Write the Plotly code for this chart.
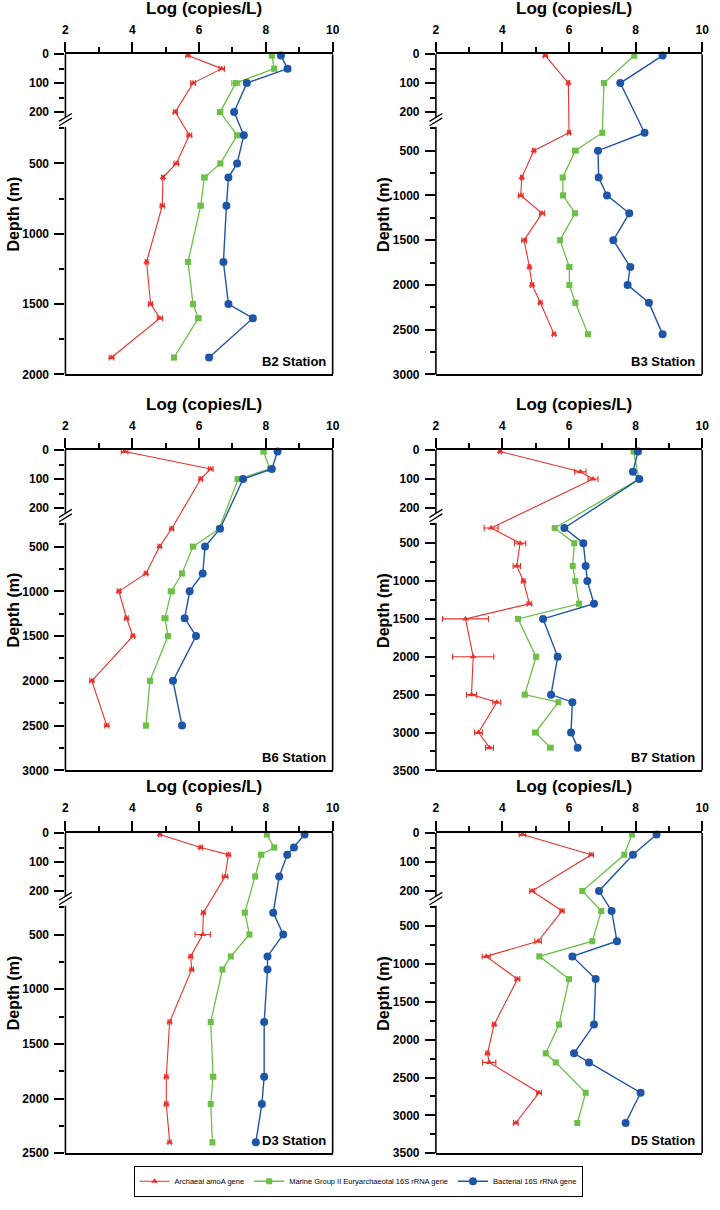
import plotly.graph_objects as go

# ---------------- data ----------------
B2_depth = [5, 50, 100, 200, 300, 500, 600, 800, 1200, 1500, 1600, 1880]
B2_amoA = [5.67, 6.68, 5.82, 5.29, 5.71, 5.32, 4.92, 4.90, 4.43, 4.55, 4.83, 3.38]
B2_mgii = [8.18, 8.25, 7.10, 6.63, 7.14, 6.64, 6.16, 6.05, 5.67, 5.82, 5.98, 5.25]
B2_bact = [8.45, 8.65, 7.43, 7.05, 7.34, 7.14, 6.88, 6.82, 6.73, 6.88, 7.61, 6.30]
B2_amoA_err = [0.06, 0.08, 0.07, 0.06, 0.07, 0.07, 0.04, 0.06, 0.04, 0.06, 0.08, 0.07]
B2_mgii_err = [0.05, 0.06, 0.12, 0.08, 0.07, 0.06, 0.08, 0.08, 0.04, 0.05, 0.08, 0.05]
B2_bact_err = [0.07, 0.08, 0.07, 0.06, 0.07, 0.06, 0.06, 0.05, 0.05, 0.06, 0.08, 0.06]

B3_depth = [5, 100, 300, 500, 800, 1000, 1200, 1500, 1800, 2000, 2200, 2550]
B3_amoA = [5.29, 5.98, 6.00, 4.94, 4.58, 4.55, 5.19, 4.65, 4.81, 4.89, 5.14, 5.55]
B3_mgii = [7.96, 7.05, 7.00, 6.19, 5.81, 5.82, 6.18, 5.73, 6.01, 6.01, 6.19, 6.57]
B3_bact = [8.81, 7.54, 8.27, 6.87, 6.89, 7.14, 7.81, 7.33, 7.84, 7.76, 8.40, 8.81]
B3_amoA_err = [0.06, 0.04, 0.04, 0.04, 0.04, 0.07, 0.07, 0.07, 0.04, 0.05, 0.05, 0.05]
B3_mgii_err = [0.06, 0.05, 0.05, 0.08, 0.06, 0.06, 0.07, 0.06, 0.07, 0.05, 0.06, 0.06]
B3_bact_err = [0.06, 0.05, 0.07, 0.05, 0.05, 0.05, 0.07, 0.05, 0.08, 0.07, 0.05, 0.06]

B6_depth = [5, 65, 100, 300, 500, 800, 1000, 1300, 1500, 2000, 2500]
B6_amoA = [3.77, 6.35, 6.05, 5.18, 4.82, 4.41, 3.60, 3.83, 4.02, 2.79, 3.24]
B6_mgii = [7.93, 8.12, 7.17, 6.60, 5.82, 5.49, 5.17, 4.98, 5.07, 4.53, 4.41]
B6_bact = [8.35, 8.18, 7.32, 6.63, 6.18, 6.11, 5.72, 5.57, 5.91, 5.22, 5.49]
B6_amoA_err = [0.10, 0.07, 0.05, 0.05, 0.05, 0.05, 0.05, 0.05, 0.05, 0.06, 0.06]
B6_mgii_err = [0.07, 0.06, 0.09, 0.08, 0.08, 0.05, 0.09, 0.09, 0.05, 0.06, 0.06]
B6_bact_err = [0.05, 0.06, 0.06, 0.07, 0.04, 0.04, 0.05, 0.05, 0.06, 0.06, 0.05]

B7_depth = [5, 75, 100, 300, 500, 800, 1000, 1300, 1500, 2000, 2500, 2600, 3000, 3200]
B7_amoA = [3.93, 6.34, 6.72, 3.66, 4.53, 4.43, 4.63, 4.81, 2.89, 3.12, 3.07, 3.83, 3.28, 3.61]
B7_mgii = [7.94, None, 8.10, 5.57, 6.16, 6.11, 6.19, 6.30, 4.47, 5.01, 4.67, 5.68, 4.99, 5.44]
B7_bact = [8.07, 7.92, 8.11, 5.86, 6.43, 6.50, 6.55, 6.75, 5.22, 5.66, 5.46, 6.10, 6.06, 6.26]
B7_amoA_err = [0.04, 0.17, 0.15, 0.21, 0.17, 0.11, 0.05, 0.07, 0.69, 0.62, 0.15, 0.12, 0.12, 0.12]
B7_mgii_err = [0.05, 0.0, 0.06, 0.06, 0.05, 0.05, 0.05, 0.06, 0.06, 0.05, 0.06, 0.05, 0.08, 0.08]
B7_bact_err = [0.06, 0.06, 0.06, 0.05, 0.07, 0.05, 0.05, 0.05, 0.05, 0.08, 0.05, 0.06, 0.06, 0.05]

D3_depth = [5, 50, 75, 150, 300, 500, 700, 820, 1300, 1800, 2050, 2400]
D3_amoA = [4.83, 6.05, 6.88, 6.78, 6.13, 6.11, 5.75, 5.78, 5.12, 5.02, 5.02, 5.12]
D3_mgii = [8.03, 8.25, 7.86, 7.68, 7.37, 7.51, 6.95, 6.70, 6.35, 6.42, 6.35, 6.40]
D3_bact = [9.16, 8.84, 8.64, 8.40, 8.22, 8.52, 8.05, 8.05, 7.95, 7.95, 7.88, 7.70]
D3_amoA_err = [0.04, 0.05, 0.05, 0.08, 0.05, 0.23, 0.05, 0.05, 0.05, 0.05, 0.05, 0.05]
D3_mgii_err = [0.05, 0.06, 0.07, 0.05, 0.06, 0.05, 0.06, 0.05, 0.05, 0.08, 0.05, 0.05]
D3_bact_err = [0.07, 0.07, 0.06, 0.05, 0.05, 0.06, 0.05, 0.05, 0.05, 0.05, 0.05, 0.05]

D5_depth = [5, 75, 200, 300, 700, 900, 1200, 1800, 2180, 2300, 2700, 3100]
D5_amoA = [4.60, 6.67, 4.89, 5.79, 5.07, 3.51, 4.45, 3.75, 3.55, 3.60, 5.10, 4.40]
D5_mgii = [7.89, 7.66, 6.40, 6.97, 6.70, 5.11, 6.00, 5.70, 5.30, 5.60, 6.50, 6.25]
D5_bact = [8.63, 7.92, 6.90, 7.28, 7.44, 6.10, 6.80, 6.75, 6.15, 6.60, 8.15, 7.70]
D5_amoA_err = [0.10, 0.06, 0.07, 0.06, 0.10, 0.12, 0.07, 0.05, 0.05, 0.20, 0.07, 0.07]
D5_mgii_err = [0.05, 0.05, 0.06, 0.06, 0.05, 0.06, 0.05, 0.05, 0.05, 0.06, 0.05, 0.05]
D5_bact_err = [0.06, 0.05, 0.05, 0.05, 0.05, 0.08, 0.05, 0.05, 0.05, 0.05, 0.07, 0.05]

station_names = ["B2 Station", "B3 Station", "B6 Station", "B7 Station", "D3 Station", "D5 Station"]
station_max_depth = [2000, 3000, 3000, 3500, 2500, 3500]
series_names = ["Archaeal amoA gene",
                "Marine Group II Euryarchaeotal 16S rRNA gene",
                "Bacterial 16S rRNA gene"]

panels = [
    (B2_depth, [B2_amoA, B2_mgii, B2_bact], [B2_amoA_err, B2_mgii_err, B2_bact_err]),
    (B3_depth, [B3_amoA, B3_mgii, B3_bact], [B3_amoA_err, B3_mgii_err, B3_bact_err]),
    (B6_depth, [B6_amoA, B6_mgii, B6_bact], [B6_amoA_err, B6_mgii_err, B6_bact_err]),
    (B7_depth, [B7_amoA, B7_mgii, B7_bact], [B7_amoA_err, B7_mgii_err, B7_bact_err]),
    (D3_depth, [D3_amoA, D3_mgii, D3_bact], [D3_amoA_err, D3_mgii_err, D3_bact_err]),
    (D5_depth, [D5_amoA, D5_mgii, D5_bact], [D5_amoA_err, D5_mgii_err, D5_bact_err]),
]

# ---------------- styling ----------------
W, H = 720, 1210
FONT = "Liberation Sans"
colors = ["#E8312B", "#6CBF47", "#1F55A6"]
symbols = ["triangle-up", "square", "circle"]
msizes = [6, 6, 8]
lwidths = [1.1, 1.3, 1.4]

# broken depth axis: 0-~220 m on top, 250 m - max below (axis units = pixels)
PANEL_H = 324.0
UP_SCALE = 0.293
LOW_OFFSET = 75.0
UP_END = 64.0
LOW_START = 73.5


def depth_axis(d, dmax):
    if d <= 225:
        return d * UP_SCALE
    return LOW_OFFSET + (d - 250) * (PANEL_H - LOW_OFFSET) / (dmax - 250)


col_x = [(63.3, 334.3), (439.0, 709.0)]
row_y = [(47.7, 371.7), (448.3, 772.3), (835.7, 1159.7)]


def px(x):
    return x / W


def py(y):
    return 1 - y / H


fig = go.Figure()
shapes = []
annotations = []

for i, (depths, vals, errs) in enumerate(panels):
    n = i + 1
    r, c = divmod(i, 2)
    x0, x1 = col_x[c]
    yt, yb = row_y[r]
    dmax = station_max_depth[i]
    xa = "x" if n == 1 else f"x{n}"
    ya = "y" if n == 1 else f"y{n}"
    ydisp = [depth_axis(d, dmax) for d in depths]

    for k in range(3):
        keep = [j for j, v in enumerate(vals[k]) if v is not None]
        xs = [vals[k][j] for j in keep]
        ys = [ydisp[j] for j in keep]
        es = [errs[k][j] for j in keep]
        fig.add_trace(go.Scatter(
            x=xs, y=ys, mode="lines+markers", name=series_names[k],
            xaxis=xa, yaxis=ya, showlegend=(n == 1), cliponaxis=False,
            line=dict(color=colors[k], width=lwidths[k]),
            marker=dict(symbol=symbols[k], size=msizes[k], color=colors[k]),
            error_x=dict(type="data", array=es, color=colors[k], thickness=1.1, width=3),
        ))

    up_major = [0, 100, 200]
    up_minor = [50, 150]
    low_major = list(range(500, dmax + 1, 500))
    low_minor = list(range(250, dmax, 500))
    tickvals = [depth_axis(d, dmax) for d in up_major + low_major]
    ticktext = [str(d) for d in up_major + low_major]
    minorvals = [depth_axis(d, dmax) for d in up_minor + low_minor]

    xkey = "xaxis" if n == 1 else f"xaxis{n}"
    ykey = "yaxis" if n == 1 else f"yaxis{n}"
    fig.update_layout(**{
        xkey: dict(
            domain=[px(x0), px(x1)], anchor=ya, side="top", range=[2, 10],
            tickvals=[2, 4, 6, 8, 10], ticks="outside", ticklen=10, tickwidth=1.5,
            tickcolor="black", showline=True, mirror=True, linecolor="black",
            linewidth=1.6, showgrid=False, zeroline=False, ticklabelstandoff=4,
            tickfont=dict(family=FONT, size=12, color="black", weight="bold"),
            minor=dict(tickvals=[3, 5, 7, 9], ticks="outside", ticklen=5,
                       tickwidth=1.5, tickcolor="black", showgrid=False),
        ),
        ykey: dict(
            domain=[py(yb), py(yt)], anchor=xa, range=[PANEL_H, 0],
            tickvals=tickvals, ticktext=ticktext, ticks="outside", ticklen=10,
            tickwidth=1.5, tickcolor="black", showline=False, showgrid=False,
            zeroline=False, ticklabelstandoff=3,
            tickfont=dict(family=FONT, size=12, color="black", weight="bold"),
            minor=dict(tickvals=minorvals, ticks="outside", ticklen=5,
                       tickwidth=1.5, tickcolor="black", showgrid=False),
        ),
    })

    line = dict(color="black", width=1.6)
    # right spine
    shapes.append(dict(type="line", xref="paper", yref="paper",
                       x0=px(x1), x1=px(x1), y0=py(yt), y1=py(yb), line=line))
    # left spine, broken
    shapes.append(dict(type="line", xref="paper", yref="paper",
                       x0=px(x0), x1=px(x0), y0=py(yt), y1=py(yt + UP_END), line=line))
    shapes.append(dict(type="line", xref="paper", yref="paper",
                       x0=px(x0), x1=px(x0), y0=py(yt + LOW_START), y1=py(yb), line=line))
    # break marks
    for off in (0, 4.5):
        shapes.append(dict(type="line", xref="paper", yref="paper",
                           x0=px(x0 - 6.5), x1=px(x0 + 6.5),
                           y0=py(yt + 68 + off), y1=py(yt + 60 + off),
                           line=dict(color="black", width=1.3)))

    # titles
    annotations.append(dict(text="Log (copies/L)", xref="paper", yref="paper",
                            x=px((x0 + x1) / 2 + 5), y=py(yt - 36), showarrow=False,
                            xanchor="center", yanchor="bottom", borderpad=0,
                            font=dict(family=FONT, size=17, color="black", weight="bold")))
    annotations.append(dict(text="Depth (m)", xref="paper", yref="paper",
                            x=px(x0 - 53), y=py((yt + yb) / 2), showarrow=False,
                            textangle=-90, xanchor="center", yanchor="middle",
                            font=dict(family=FONT, size=16, color="black", weight="bold")))
    annotations.append(dict(text=station_names[i], xref="paper", yref="paper",
                            x=px(x1 - 5), y=py(yb - 3), showarrow=False,
                            xanchor="right", yanchor="bottom",
                            font=dict(family=FONT, size=13, color="black", weight="bold")))

fig.update_layout(
    width=W, height=H, margin=dict(l=0, r=0, t=0, b=0),
    paper_bgcolor="white", plot_bgcolor="white",
    shapes=shapes, annotations=annotations,
    legend=dict(orientation="h", x=0.5, xanchor="center", y=py(1188), yanchor="middle",
                bordercolor="black", borderwidth=1, bgcolor="white",
                font=dict(family=FONT, size=7.5, color="black"),
                itemwidth=30),
)

fig.write_html(
    "out.html",
    config={"displayModeBar": False},
    post_script="document.body.style.margin='0px';document.body.style.overflow='hidden';",
)
